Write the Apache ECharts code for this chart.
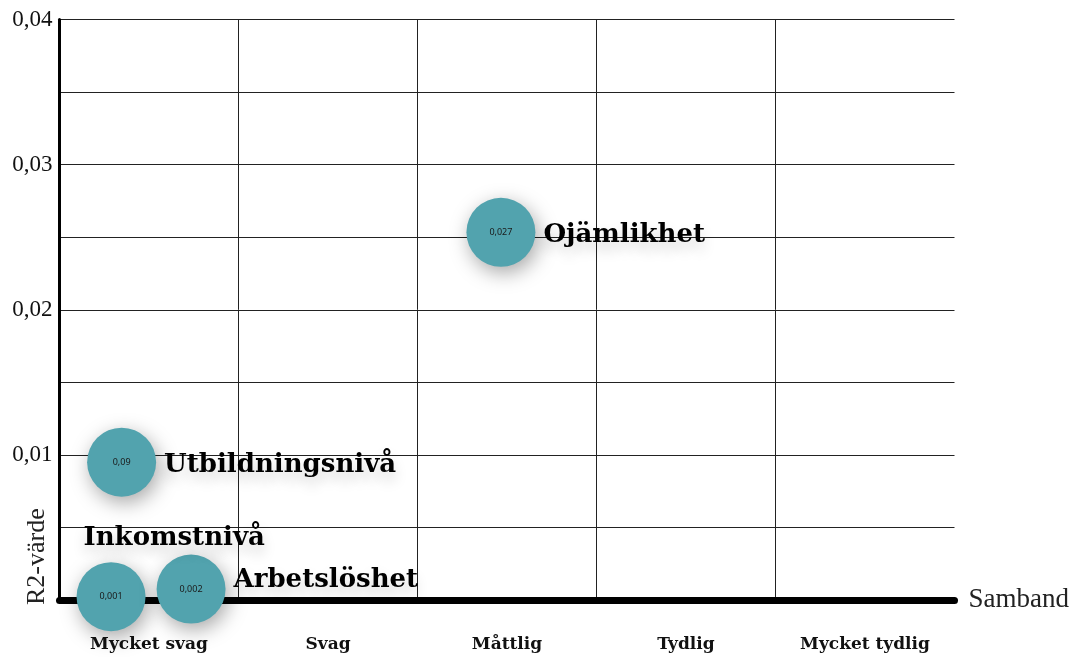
<!DOCTYPE html>
<html><head><meta charset="utf-8">
<script src="https://cdn.jsdelivr.net/npm/echarts@6/dist/echarts.min.js"></script>
<style>html,body{margin:0;padding:0;background:#fff}#c{width:1090px;height:657px}</style>
</head><body><div id="c"></div>
<script>
const categories = ['Mycket svag','Svag','Måttlig','Tydlig','Mycket tydlig'];
const names = ['Inkomstnivå','Arbetslöshet','Utbildningsnivå','Ojämlikhet'];
const xPos = [0.288, 0.735, 0.347, 2.466];
const r2 = [0.00023, 0.00075, 0.0095, 0.02534];
const valueLabels = ['0,001','0,002','0,09','0,027'];
const nameOffsets = [[-70,-58],[0,-9],[0,3],[0,3]];

const chart = echarts.init(document.getElementById('c'));
const serifBold = '"DejaVu Serif", serif';
const points = names.map((n,i)=>({name:n, value:[xPos[i], r2[i]], vl:valueLabels[i]}));
chart.setOption({
  animation:false,
  grid:{left:59.5, right:135.5, top:19.5, bottom:57},
  xAxis:[{
    type:'category', data:categories, boundaryGap:true,
    name:'Samband', nameLocation:'end', nameGap:14,
    nameTextStyle:{fontFamily:'"Liberation Serif", serif', fontSize:27, color:'#222', verticalAlign:'middle'},
    axisLine:{lineStyle:{color:'#000', width:7}},
    axisTick:{show:false},
    axisLabel:{fontFamily:serifBold, fontWeight:'bold', fontSize:17, color:'#111', margin:36},
    splitLine:{show:true, showMinLine:false, showMaxLine:false, lineStyle:{color:'#222', width:1}},
    z:1
  },{
    type:'value', min:0, max:5, show:false
  }],
  yAxis:{
    type:'value', min:0, max:0.04, interval:0.005,
    axisLine:{show:true, lineStyle:{color:'#000', width:3}},
    axisTick:{show:false},
    axisLabel:{fontFamily:'"Liberation Serif", serif', fontSize:23, color:'#111', margin:7,
      formatter:v=>{const k=Math.round(v*1000); return (k>0 && k%10===0)?(v.toFixed(2).replace('.',',')):'';}},
    splitLine:{show:true, lineStyle:{color:'#222', width:1}}
  },
  graphic:[{type:'text', rotation:Math.PI/2,
    style:{text:'R2-värde', font:'26px "Liberation Serif", serif', fill:'#222'},
    x:24, y:605}],
  series:[{
    type:'scatter', xAxisIndex:1, symbolSize:69, z:5,
    data:points,
    itemStyle:{color:'#52a3ae', opacity:1, shadowBlur:20, shadowColor:'rgba(0,0,0,0.35)', shadowOffsetX:3, shadowOffsetY:6},
    label:{show:true, position:'inside', formatter:p=>p.data.vl, fontFamily:'"Noto Sans", sans-serif', fontSize:9, color:'#1a1a1a'}
  },{
    type:'scatter', xAxisIndex:1, symbolSize:69, z:6, silent:true,
    data:points.map((p,i)=>({name:p.name, value:p.value,
      label:{offset:nameOffsets[i]}})),
    itemStyle:{color:'rgba(0,0,0,0)'},
    label:{show:true, position:'right', distance:8, formatter:p=>p.name,
      fontFamily:serifBold, fontWeight:'bold', fontSize:26, color:'#000', opacity:1,
      textShadowColor:'rgba(0,0,0,0.18)', textShadowBlur:14, textShadowOffsetY:8}
  }]
});
</script></body></html>
